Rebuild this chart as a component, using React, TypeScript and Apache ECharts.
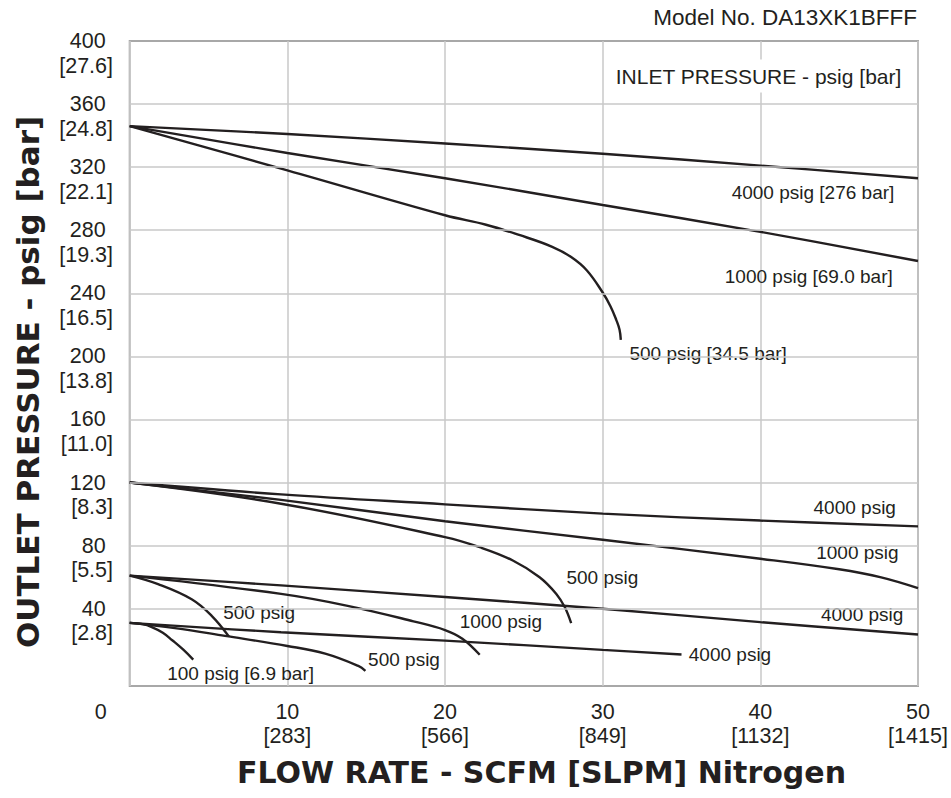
import React, { useEffect, useRef } from 'react';
import * as echarts from 'echarts';

// ---- axis ticks ----
const xTickScfm = [0, 10, 20, 30, 40, 50];
const xTickSlpm = ['', '[283]', '[566]', '[849]', '[1132]', '[1415]'];
const yTickPsig = [40, 80, 120, 160, 200, 240, 280, 320, 360, 400];
const yTickBar = ['[2.8]', '[5.5]', '[8.3]', '[11.0]', '[13.8]', '[16.5]', '[19.3]', '[22.1]', '[24.8]', '[27.6]'];

// ---- curves: [flow SCFM, outlet psig] ----
// outlet set ~346 psig
const set346_in4000 = [[0, 346], [10, 341], [20, 335], [30, 328.5], [40, 321], [50, 313]];
const set346_in1000 = [[0, 346], [10, 329], [20, 313], [30, 296], [40, 279], [50, 260.5]];
const set346_in500 = [[0, 346], [10, 318], [20, 289.5], [22.6, 283.5], [24.7, 277], [26.8, 269.5], [28, 263], [29, 254.5], [30, 240.5], [30.5, 231.7], [30.86, 223.2], [31.07, 216.9], [31.15, 210.5]];
// outlet set 120 psig
const set120_in4000 = [[0, 120], [9.6, 112.5], [20, 106.2], [30, 100.3], [40, 95.9], [50, 92.2]];
const set120_in1000 = [[0, 120], [9.6, 109], [20, 95.5], [30, 83.7], [40, 71.7], [45, 65], [47.6, 60], [50, 53]];
const set120_in500 = [[0, 120], [9.6, 106.6], [20, 85.4], [22.2, 79], [24.3, 70.6], [26, 60], [27.06, 49.4], [27.6, 40.9], [28, 30.8]];
// outlet set ~61 psig
const set61_in4000 = [[0, 61], [9.6, 54.8], [20, 47.4], [30, 40], [40, 31.5], [50, 23.7]];
const set61_in1000 = [[0, 61], [9.6, 49.4], [13.75, 42], [18, 32], [20, 26.5], [21.1, 21], [22.2, 10.8]];
const set61_in500 = [[0, 61], [1.8, 55.6], [3.93, 46], [5.2, 35.5], [6.3, 22.3]];
// outlet set ~31 psig
const set31_in4000 = [[0, 31], [9.6, 25.1], [20, 19.8], [30, 13.9], [35, 11]];
const set31_in500 = [[0, 31], [2.87, 27.7], [6.04, 22.8], [10, 16.4], [12.4, 11.5], [14.5, 3.7], [14.95, 0.6]];
const set31_in100 = [[0, 31], [0.8, 30.2], [1.4, 28.4], [2.1, 24.8], [2.7, 20], [3.4, 14], [4.03, 7.7]];

const curves = [
  set346_in4000, set346_in1000, set346_in500,
  set120_in4000, set120_in1000, set120_in500,
  set61_in4000, set61_in1000, set61_in500,
  set31_in4000, set31_in500, set31_in100,
];

// ---- curve labels: text, anchor (data coords), side of anchor ----
const labelTexts = [
  '4000 psig [276 bar]', '1000 psig [69.0 bar]', '500 psig [34.5 bar]',
  '4000 psig', '1000 psig', '500 psig',
  '4000 psig', '1000 psig', '500 psig',
  '4000 psig', '500 psig', '100 psig [6.9 bar]',
];
const labelX = [48.5, 48.4, 31.7, 48.6, 48.77, 27.7, 49.07, 20.93, 5.93, 35.46, 15.12, 2.38];
const labelY = [304, 250.4, 202, 104, 75.4, 60, 36.4, 31.9, 37.3, 11, 7.8, -1.1];
const labelSide = ['left', 'left', 'right', 'left', 'left', 'right', 'left', 'right', 'right', 'right', 'right', 'right'];

const FONT = '"Liberation Sans", Arial, Helvetica, sans-serif';
const INK = '#231f20';
const GRID = '#c8c8c8';

export default function App() {
  const ref = useRef<HTMLDivElement>(null);
  useEffect(() => {
    if (!ref.current) return;
    const chart = echarts.init(ref.current, undefined, { renderer: 'svg' });
    const gridSeries = {
      type: 'line',
      name: 'grid',
      data: [],
      silent: true,
      z: 1,
      markLine: {
        silent: true,
        symbol: ['none', 'none'],
        label: { show: false },
        lineStyle: { color: GRID, width: 1.5, type: 'solid' },
        emphasis: { disabled: true },
        data: yTickPsig.filter((v) => v < 400).map((v) => ({ yAxis: v })),
      },
    };
    const lineSeries = curves.map((d, i) => ({
      type: 'line',
      name: 'c' + i,
      data: d,
      showSymbol: false,
      symbol: 'none',
      smooth: 0.4,
      silent: true,
      z: 3,
      lineStyle: { color: INK, width: 2.4 },
    }));
    const labelSeries = {
      type: 'scatter',
      silent: true,
      symbolSize: 0,
      z: 4,
      itemStyle: { opacity: 1 },
      data: labelTexts.map((t, i) => ({
        name: t,
        value: [labelX[i], labelY[i]],
        label: { position: labelSide[i] },
      })),
      label: {
        show: true,
        formatter: '{b}',
        distance: 0,
        fontFamily: FONT,
        fontSize: 19,
        color: INK,
        opacity: 1,
      },
    };
    const inletSeries = {
      type: 'scatter',
      silent: true,
      symbolSize: 0,
      z: 5,
      itemStyle: { opacity: 1 },
      data: [{ name: 'INLET PRESSURE - psig [bar]', value: [49.45, 377.8] }],
      label: {
        show: true,
        formatter: '{b}',
        position: 'left',
        distance: 0,
        fontFamily: FONT,
        fontSize: 21,
        color: INK,
        opacity: 1,
        backgroundColor: '#ffffff',
        padding: [6, 8, 6, 8],
      },
    };
    const yBase = {
      type: 'value',
      min: -9,
      max: 400,
      position: 'left',
      offset: 0,
      axisLine: { show: false },
      axisTick: { show: false, customValues: yTickPsig },
      splitLine: { show: false },
    };
    const option: any = {
      animation: false,
      backgroundColor: '#ffffff',
      grid: {
        left: 129.7,
        top: 41,
        right: 33,
        bottom: 112,
        show: true,
        borderColor: '#a8a8a8',
        borderWidth: 2,
        containLabel: false,
        outerBoundsMode: 'none',
      },
      xAxis: {
        type: 'value',
        min: 0,
        max: 50,
        interval: 10,
        axisLine: { show: false },
        axisTick: { show: false },
        splitLine: { show: true, lineStyle: { color: GRID, width: 1.5 } },
        axisLabel: {
          margin: 14,
          showMinLabel: true,
          showMaxLabel: true,
          formatter: (v: number) => {
            const i = xTickScfm.indexOf(v);
            if (v === 0) return '{z|0}';
            return `{a|${v}}\n{a|${xTickSlpm[i]}}`;
          },
          rich: {
            a: { fontFamily: FONT, fontSize: 21.5, lineHeight: 24, color: INK, align: 'center' },
            z: { fontFamily: FONT, fontSize: 21.5, lineHeight: 24, color: INK, padding: [0, 58, 0, 0] },
          },
        },
      },
      yAxis: [
        {
          ...yBase,
          axisLabel: {
            customValues: yTickPsig,
            showMinLabel: true,
            showMaxLabel: true,
            align: 'right',
            verticalAlign: 'middle',
            margin: 24,
            fontFamily: FONT,
            fontSize: 21.5,
            lineHeight: 24,
            color: INK,
            formatter: (v: number) => String(v),
          },
        },
        {
          ...yBase,
          axisLabel: {
            customValues: yTickPsig,
            showMinLabel: true,
            showMaxLabel: true,
            align: 'right',
            verticalAlign: 'top',
            margin: 16.7,
            fontFamily: FONT,
            fontSize: 21.5,
            lineHeight: 24,
            padding: [12.5, 0, 0, 0],
            color: INK,
            formatter: (v: number) => yTickBar[yTickPsig.indexOf(v)] || '',
          },
        },
      ],
      graphic: [
        {
          type: 'text',
          x: 917,
          y: 17.5,
          style: {
            text: 'Model No. DA13XK1BFFF',
            fontFamily: FONT,
            fontSize: 22.5,
            fill: INK,
            textAlign: 'right',
            textVerticalAlign: 'middle',
          },
        },
        {
          type: 'text',
          x: 541.5,
          y: 772,
          style: {
            text: 'FLOW RATE - SCFM [SLPM] Nitrogen',
            fontFamily: '"DejaVu Sans", sans-serif',
            fontWeight: 'bold',
            fontSize: 30,
            fill: INK,
            textAlign: 'center',
            textVerticalAlign: 'middle',
          },
        },
        {
          type: 'text',
          x: 28,
          y: 382,
          rotation: Math.PI / 2,
          style: {
            text: 'OUTLET PRESSURE - psig [bar]',
            fontFamily: '"DejaVu Sans", sans-serif',
            fontWeight: 'bold',
            fontSize: 31,
            fill: INK,
            textAlign: 'center',
            textVerticalAlign: 'middle',
          },
        },
      ],
      series: [gridSeries, ...lineSeries, labelSeries, inletSeries],
    };
    chart.setOption(option);
    return () => chart.dispose();
  }, []);
  return (
    <div
      ref={ref}
      style={{ position: 'absolute', left: 0, top: 0, width: 951, height: 798 }}
    />
  );
}
